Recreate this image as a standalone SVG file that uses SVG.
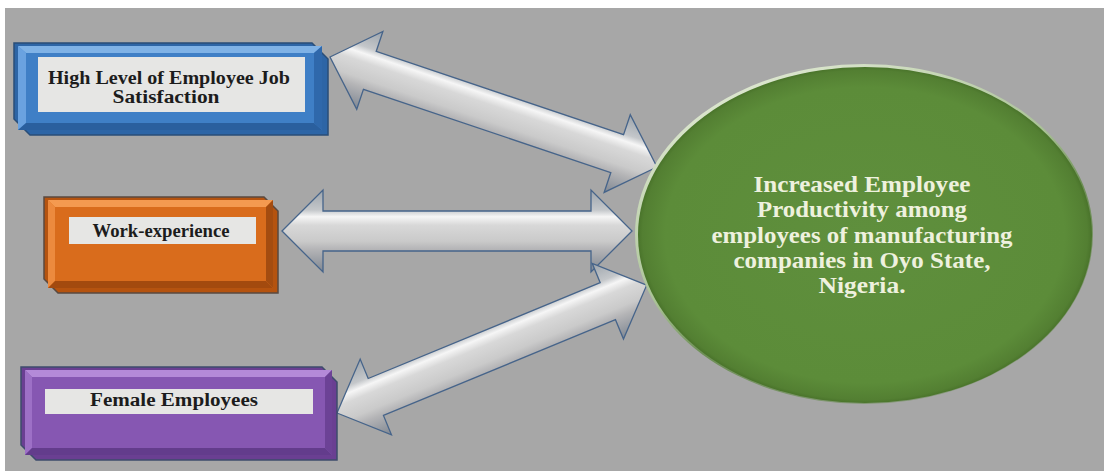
<svg xmlns="http://www.w3.org/2000/svg" width="1104" height="471" viewBox="0 0 1104 471">
<defs>
<linearGradient id="arrowGrad" gradientUnits="userSpaceOnUse" x1="0" y1="-42" x2="0" y2="42">
<stop offset="0" stop-color="#9aa2aa"/>
<stop offset="0.25" stop-color="#c4c7ca"/>
<stop offset="0.33" stop-color="#f6f6f6"/>
<stop offset="0.43" stop-color="#d8d8d8"/>
<stop offset="0.62" stop-color="#cacaca"/>
<stop offset="0.72" stop-color="#b4b4b6"/>
<stop offset="1" stop-color="#7d8590"/>
</linearGradient>
<radialGradient id="ellGrad" cx="0.5" cy="0.5" r="0.5">
<stop offset="0" stop-color="#5f8f3d"/>
<stop offset="0.88" stop-color="#5c8c39"/>
<stop offset="0.98" stop-color="#537f32"/>
<stop offset="1" stop-color="#4a742b"/>
</radialGradient>
<linearGradient id="rimGrad" x1="0.2" y1="0" x2="0.8" y2="1">
<stop offset="0" stop-color="#e4ecd8"/>
<stop offset="0.45" stop-color="#a9c295"/>
<stop offset="0.6" stop-color="#6d8f55"/>
<stop offset="1" stop-color="#8a9a80"/>
</linearGradient>
<style>
.lbl{fill:#e6e6e4}
.boxtxt{font-family:"Liberation Serif","Times New Roman",serif;font-weight:bold;font-size:18px;fill:#1c1c1c;text-anchor:middle}
.elltxt{font-family:"Liberation Serif","Times New Roman",serif;font-weight:bold;font-size:23px;fill:#eef1de;text-anchor:middle}
.arrow{fill:url(#arrowGrad);stroke:#46648a;stroke-width:1.3;stroke-linejoin:miter}
</style>
</defs>
<rect x="0" y="0" width="1104" height="471" fill="#ffffff"/>
<rect x="5" y="8" width="1099" height="463" fill="#a7a7a7"/>

<g id="connectors">
<g transform="translate(330,57) rotate(18.59)">
<polygon class="arrow" points="0,0 42,-41 42,-20 303,-20 303,-41 345,0 303,41 303,20 42,20 42,41"/>
</g>
<g transform="translate(282,231)">
<polygon class="arrow" points="0,0 41,-41 41,-20 309,-20 309,-41 350,0 309,41 309,20 41,20 41,41"/>
</g>
<g transform="translate(337,413) rotate(-22.43)">
<polygon class="arrow" points="0,0 42,-41 42,-20 293,-20 293,-41 335,0 293,41 293,20 42,20 42,41"/>
</g>
</g>

<g id="node-satisfaction">
<polygon points="14,43 312,43 328,59 328,135 30,135 14,119" fill="#2d65a6" stroke="#2a4e78" stroke-width="1.5"/>
<polygon points="18,46 322,46 322,130 18,130" fill="#4a8bd2"/>
<polygon points="18,46 322,46 314,53 26,53" fill="#7fb2e6"/>
<polygon points="18,46 26,53 26,123 18,130" fill="#6aa2e0"/>
<polygon points="322,46 322,130 314,123 314,53" fill="#2f68ab"/>
<polygon points="18,130 322,130 314,123 26,123" fill="#2a5f9e"/>
<rect x="26" y="53" width="288" height="70" fill="#3f7fc6"/>
<rect class="lbl" x="38" y="57" width="267" height="55"/>
<text class="boxtxt" x="169" y="84" textLength="242" lengthAdjust="spacingAndGlyphs">High Level of Employee Job</text>
<text class="boxtxt" x="166" y="103" textLength="107" lengthAdjust="spacingAndGlyphs">Satisfaction</text>
</g>

<g id="node-work">
<polygon points="44,197 264,197 278,211 278,293 58,293 44,279" fill="#b5530f" stroke="#5a4a40" stroke-width="1.5"/>
<polygon points="48,200 273,200 273,288 48,288" fill="#e0731f"/>
<polygon points="48,200 273,200 266,207 55,207" fill="#f49a50"/>
<polygon points="48,200 55,207 55,281 48,288" fill="#ec8a3e"/>
<polygon points="273,200 273,288 266,281 266,207" fill="#a44c10"/>
<polygon points="48,288 273,288 266,281 55,281" fill="#a34a0e"/>
<rect x="55" y="207" width="211" height="74" fill="#d96c1c"/>
<rect class="lbl" x="69" y="217" width="187" height="27"/>
<text class="boxtxt" x="161" y="237" textLength="137" lengthAdjust="spacingAndGlyphs">Work-experience</text>
</g>

<g id="node-female">
<polygon points="21,367 322,367 337,382 337,460 36,460 21,445" fill="#6a3f92" stroke="#3e4c6c" stroke-width="1.5"/>
<polygon points="25,370 332,370 332,455 25,455" fill="#8a5cb4"/>
<polygon points="25,370 332,370 325,377 32,377" fill="#b48ad8"/>
<polygon points="25,370 32,377 32,448 25,455" fill="#9d70c6"/>
<polygon points="332,370 332,455 325,448 325,377" fill="#6c4296"/>
<polygon points="25,455 332,455 325,448 32,448" fill="#633c8c"/>
<rect x="32" y="377" width="293" height="71" fill="#8657b2"/>
<rect class="lbl" x="45" y="389" width="268" height="25"/>
<text class="boxtxt" x="174" y="406" textLength="168" lengthAdjust="spacingAndGlyphs">Female Employees</text>
</g>

<g id="node-productivity">
<ellipse cx="864" cy="234" rx="229" ry="170" fill="url(#rimGrad)"/>
<ellipse cx="865" cy="235" rx="227" ry="168" fill="url(#ellGrad)"/>
<text class="elltxt" x="862" y="192" textLength="217" lengthAdjust="spacingAndGlyphs">Increased Employee</text>
<text class="elltxt" x="862" y="217" textLength="210" lengthAdjust="spacingAndGlyphs">Productivity among</text>
<text class="elltxt" x="862" y="243" textLength="301" lengthAdjust="spacingAndGlyphs">employees of manufacturing</text>
<text class="elltxt" x="862" y="268" textLength="257" lengthAdjust="spacingAndGlyphs">companies in Oyo State,</text>
<text class="elltxt" x="862" y="293" textLength="87" lengthAdjust="spacingAndGlyphs">Nigeria.</text>
</g>
</svg>
